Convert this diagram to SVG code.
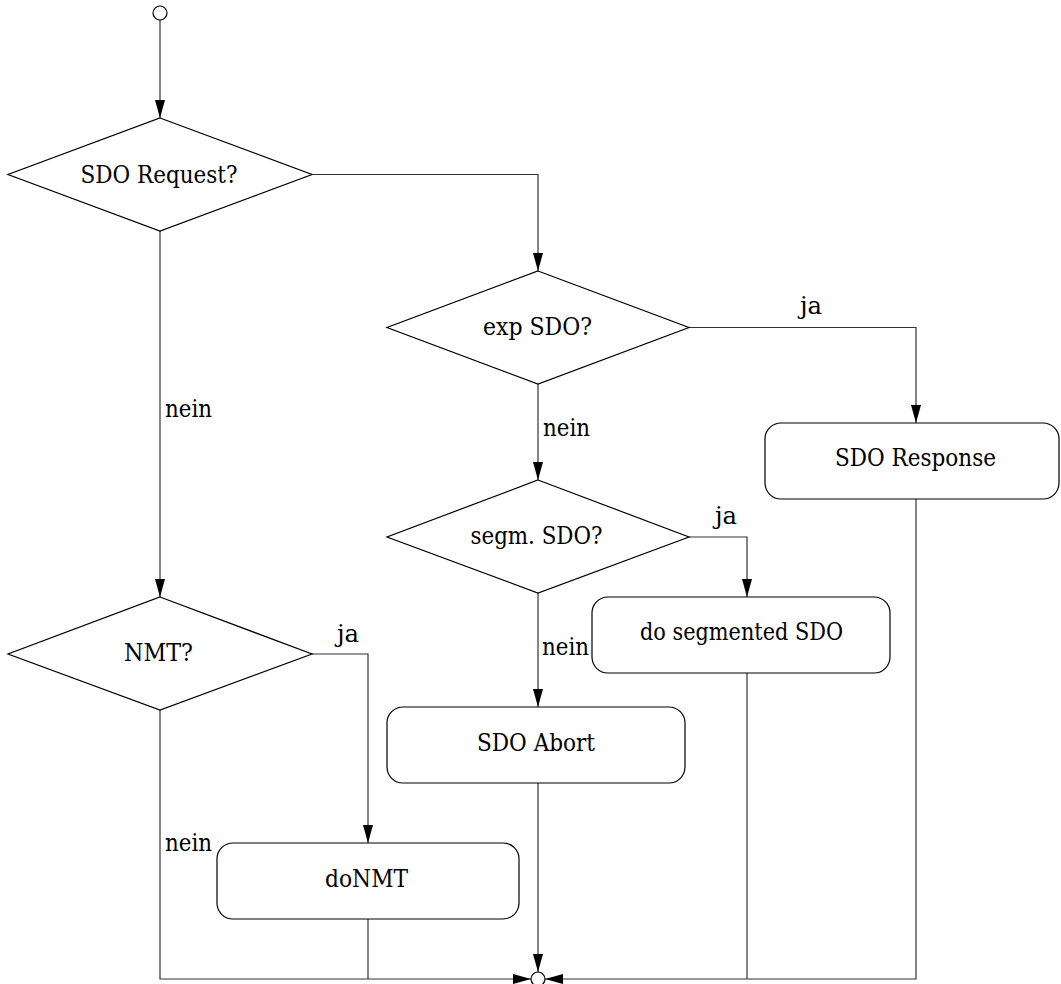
<svg xmlns="http://www.w3.org/2000/svg" width="1061" height="984" viewBox="0 0 1061 984">
  <style>
    .shape { fill: #fff; stroke: #000; stroke-width: 1.2; }
    .conn { fill: none; stroke: #333; stroke-width: 1.2; }
    text { font-family: "DejaVu Serif", "Liberation Serif", serif; font-size: 25px; fill: #000; }
    .node-text { text-anchor: middle; }
  </style>
  <defs>
    <marker id="arrow" viewBox="0 0 18 10" refX="18" refY="5" markerWidth="18" markerHeight="10" markerUnits="userSpaceOnUse" orient="auto">
      <path d="M0,0 L18,5 L0,10 Z" fill="#000"/>
    </marker>
  </defs>
  <rect width="1061" height="984" fill="#fff"/>

  <!-- connectors -->
  <g id="connectors">
    <path class="conn" d="M160,20 V118" marker-end="url(#arrow)"/>
    <path class="conn" d="M312,174.5 H538 V271" marker-end="url(#arrow)"/>
    <path class="conn" d="M160,231 V597" marker-end="url(#arrow)"/>
    <path class="conn" d="M689,327.5 H916 V423" marker-end="url(#arrow)"/>
    <path class="conn" d="M538,384 V480" marker-end="url(#arrow)"/>
    <path class="conn" d="M689,537 H747 V597" marker-end="url(#arrow)"/>
    <path class="conn" d="M538,593 V707" marker-end="url(#arrow)"/>
    <path class="conn" d="M312,654 H368 V843" marker-end="url(#arrow)"/>
    <path class="conn" d="M160,710 V979 H531" marker-end="url(#arrow)"/>
    <path class="conn" d="M368,919 V979"/>
    <path class="conn" d="M538,783 V972" marker-end="url(#arrow)"/>
    <path class="conn" d="M747,673 V979"/>
    <path class="conn" d="M916,499 V979 H545" marker-end="url(#arrow)"/>
    <text x="165" y="417" textLength="47" lengthAdjust="spacingAndGlyphs">nein</text>
    <text x="800" y="314" textLength="22" lengthAdjust="spacingAndGlyphs">ja</text>
    <text x="543" y="436" textLength="47" lengthAdjust="spacingAndGlyphs">nein</text>
    <text x="715" y="524" textLength="22" lengthAdjust="spacingAndGlyphs">ja</text>
    <text x="542" y="655" textLength="47" lengthAdjust="spacingAndGlyphs">nein</text>
    <text x="337" y="642" textLength="22" lengthAdjust="spacingAndGlyphs">ja</text>
    <text x="165" y="851" textLength="47" lengthAdjust="spacingAndGlyphs">nein</text>
  </g>

  <g id="start">
    <circle class="shape" cx="160" cy="13" r="7"/>
  </g>

  <g id="sdo-request">
    <polygon class="shape" points="160,118 312,174.5 160,231 8,174.5"/>
    <text class="node-text" x="159" y="183" textLength="157" lengthAdjust="spacingAndGlyphs">SDO Request?</text>
  </g>

  <g id="exp-sdo">
    <polygon class="shape" points="538,271 689,327.5 538,384 387,327.5"/>
    <text class="node-text" x="537.5" y="335" textLength="109" lengthAdjust="spacingAndGlyphs">exp SDO?</text>
  </g>

  <g id="sdo-response">
    <rect class="shape" x="765" y="423" width="294" height="76" rx="16" ry="16"/>
    <text class="node-text" x="915.5" y="466" textLength="161" lengthAdjust="spacingAndGlyphs">SDO Response</text>
  </g>

  <g id="segm-sdo">
    <polygon class="shape" points="538,480 689,537 538,593 387,537"/>
    <text class="node-text" x="536.5" y="544" textLength="132" lengthAdjust="spacingAndGlyphs">segm. SDO?</text>
  </g>

  <g id="do-segmented-sdo">
    <rect class="shape" x="592" y="597" width="298" height="76" rx="16" ry="16"/>
    <text class="node-text" x="741.5" y="640" textLength="203" lengthAdjust="spacingAndGlyphs">do segmented SDO</text>
  </g>

  <g id="sdo-abort">
    <rect class="shape" x="387" y="707" width="298" height="76" rx="16" ry="16"/>
    <text class="node-text" x="536" y="751" textLength="118" lengthAdjust="spacingAndGlyphs">SDO Abort</text>
  </g>

  <g id="nmt">
    <polygon class="shape" points="160,597 312,654 160,710 8,654"/>
    <text class="node-text" x="158.5" y="661" textLength="69" lengthAdjust="spacingAndGlyphs">NMT?</text>
  </g>

  <g id="do-nmt">
    <rect class="shape" x="217" y="843" width="302" height="76" rx="16" ry="16"/>
    <text class="node-text" x="366.5" y="887" textLength="83" lengthAdjust="spacingAndGlyphs">doNMT</text>
  </g>

  <g id="end">
    <circle class="shape" cx="538" cy="979" r="7"/>
  </g>
</svg>
